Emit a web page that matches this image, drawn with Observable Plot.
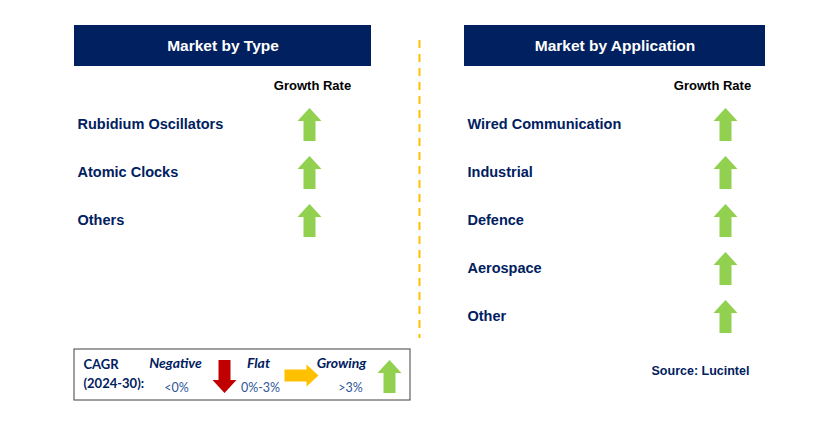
<!DOCTYPE html>
<html>
<head>
<meta charset="utf-8">
<script src="https://cdn.jsdelivr.net/npm/d3@7"></script>
<script src="https://cdn.jsdelivr.net/npm/@observablehq/plot@0.6"></script>
<style>
  html, body { margin: 0; padding: 0; background: #fff; }
  #chart svg { display: block; }
</style>
</head>
<body>
<div id="chart"></div>
<script>
// ---- data ----
const typeTitle = "Market by Type";
const appTitle = "Market by Application";
const growthLabel = "Growth Rate";
const typeCategories = ["Rubidium Oscillators", "Atomic Clocks", "Others"];
const typeTrends = ["up", "up", "up"];
const appCategories = ["Wired Communication", "Industrial", "Defence", "Aerospace", "Other"];
const appTrends = ["up", "up", "up", "up", "up"];
const legendTitle = ["CAGR", "(2024-30):"];
const legendNames = ["Negative", "Flat", "Growing"];
const legendRanges = ["<0%", "0%-3%", ">3%"];
const legendTrends = ["down", "right", "up"];
const sourceText = "Source: Lucintel";

// ---- layout ----
const W = 829, H = 422;
const navy = "#002060";
const trendColor = {up: "#92D050", down: "#C00000", right: "#FFC000"};

function arrowSymbol(dir, len, width, headLen, shaft) {
  return {
    draw(ctx) {
      const pts = [
        [0, -len / 2],
        [width / 2, -len / 2 + headLen],
        [shaft / 2, -len / 2 + headLen],
        [shaft / 2, len / 2],
        [-shaft / 2, len / 2],
        [-shaft / 2, -len / 2 + headLen],
        [-width / 2, -len / 2 + headLen]
      ];
      const rot = dir === "up" ? 0 : dir === "down" ? Math.PI : Math.PI / 2;
      const c = Math.cos(rot), s = Math.sin(rot);
      pts.forEach(([x, y], i) => {
        const X = x * c - y * s, Y = x * s + y * c;
        if (i === 0) ctx.moveTo(X, Y); else ctx.lineTo(X, Y);
      });
      ctx.closePath();
    }
  };
}
const rowArrow = arrowSymbol("up", 33, 24, 13, 12);
const legArrow = {
  up: arrowSymbol("up", 33, 24, 13, 12),
  down: arrowSymbol("down", 33, 24, 13, 12),
  right: arrowSymbol("right", 34, 22, 12, 12)
};

const rowY0 = 124, rowStep = 48;
const typeRows = typeCategories.map((name, i) => ({name, trend: typeTrends[i], y: rowY0 + i * rowStep}));
const appRows = appCategories.map((name, i) => ({name, trend: appTrends[i], y: rowY0 + i * rowStep}));

const panels = [
  {title: typeTitle, x1: 74, x2: 371, labelX: 77, arrowX: 309, growthX: 312, rows: typeRows},
  {title: appTitle, x1: 464, x2: 765, labelX: 467, arrowX: 725, growthX: 712, rows: appRows}
];

const legendCenters = [175, 258, 341];
const legendRangeX = [176, 260, 350];
const legendArrowX = [224, 301, 389];
const legendArrowY = [376, 375, 376];
const legendItems = legendNames.map((n, i) => ({
  name: n, range: legendRanges[i], trend: legendTrends[i],
  cx: legendCenters[i], rx: legendRangeX[i], ax: legendArrowX[i], ay: legendArrowY[i]
}));

const marks = [];
// header boxes and titles
marks.push(Plot.rect(panels, {x1: "x1", x2: "x2", y1: () => 25, y2: () => 66, fill: navy}));
marks.push(Plot.text(panels, {x: d => (d.x1 + d.x2) / 2, y: () => 46, text: "title", fill: "white",
  fontSize: 15.5, fontWeight: "bold", fontFamily: "Liberation Sans, Arial, sans-serif"}));
marks.push(Plot.text(panels, {x: "growthX", y: () => 85, text: () => growthLabel, fill: "black",
  fontSize: 13, fontWeight: "bold", fontFamily: "Liberation Sans, Arial, sans-serif"}));
// rows
for (const p of panels) {
  marks.push(Plot.text(p.rows, {x: () => p.labelX, y: "y", text: "name", textAnchor: "start", fill: navy,
    fontSize: 14.5, fontWeight: "bold", fontFamily: "Liberation Sans, Arial, sans-serif"}));
  marks.push(Plot.dot(p.rows, {x: () => p.arrowX, y: "y", symbol: () => rowArrow, r: 10, fill: d => trendColor[d.trend], stroke: null}));
}
// divider
marks.push(Plot.ruleX([419], {y1: 40, y2: 338, stroke: "#FFC000", strokeWidth: 2, strokeDasharray: "8,6"}));
// legend box
marks.push(Plot.rect([0], {x1: () => 74, x2: () => 410, y1: () => 349, y2: () => 400, fill: "none", stroke: "#404040", strokeWidth: 1}));
marks.push(Plot.text(legendTitle, {x: () => 83, y: (d, i) => 364 + i * 19, text: d => d, textAnchor: "start", fill: navy,
  fontSize: 13, fontWeight: "bold", fontFamily: "Lato, sans-serif"}));
marks.push(Plot.text(legendItems, {x: "cx", y: () => 363, text: "name", fill: navy, fontStyle: "italic",
  fontSize: 14, fontWeight: "bold", fontFamily: "Lato, sans-serif"}));
marks.push(Plot.text(legendItems, {x: "rx", y: () => 387, text: "range", fill: "#2F5597",
  fontSize: 12.5, fontFamily: "Lato, sans-serif"}));
marks.push(Plot.dot(legendItems, {x: "ax", y: "ay", symbol: d => legArrow[d.trend], r: 10, fill: d => trendColor[d.trend], stroke: null}));
// source
marks.push(Plot.text([sourceText], {x: () => 700, y: () => 370, text: d => d, fill: navy,
  fontSize: 12.5, fontWeight: "bold", fontFamily: "Liberation Sans, Arial, sans-serif"}));

const chart = Plot.plot({
  width: W, height: H,
  margin: 0,
  x: {domain: [0, W], range: [0, W], axis: null},
  y: {domain: [0, H], range: [0, H], axis: null},
  style: {background: "white"},
  marks
});
document.getElementById("chart").appendChild(chart);
</script>
</body>
</html>
